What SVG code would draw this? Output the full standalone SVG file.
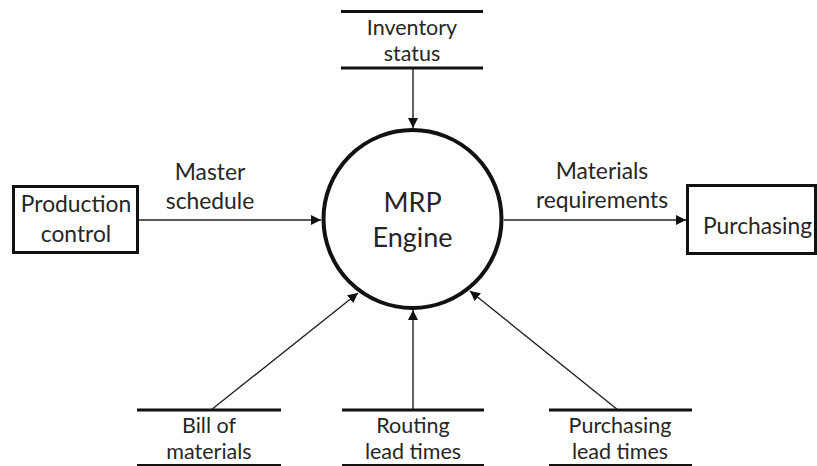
<svg xmlns="http://www.w3.org/2000/svg" width="817" height="466" viewBox="0 0 817 466">
  <style>
    text { font-family: Lato, "Open Sans", "Liberation Sans", sans-serif; fill: #262626; text-anchor: middle; }
    .lbl { font-size: 22.8px; }
    .st { font-size: 21.5px; }
    .big { font-size: 27px; }
    .box { fill: #fff; stroke: #111; stroke-width: 3; }
    .store { stroke: #111; stroke-width: 3.2; }
    .thin { stroke: #111; stroke-width: 2; }
    .flow { stroke: #222; stroke-width: 1.4; fill: none; marker-end: url(#arrow); }
  </style>
  <defs>
    <marker id="arrow" viewBox="0 0 10 10" refX="10" refY="5" markerWidth="10" markerHeight="10" markerUnits="userSpaceOnUse" orient="auto">
      <path d="M0,0 L10,5 L0,10 z" fill="#111"/>
    </marker>
  </defs>
  <rect width="817" height="466" fill="#fff"/>

  <!-- data flows -->
  <g id="connectors">
    <line class="flow" x1="413" y1="68" x2="413" y2="128"/>
    <line class="flow" x1="138" y1="220" x2="321" y2="220"/>
    <line class="flow" x1="504" y1="220" x2="686" y2="220"/>
    <line class="flow" x1="211" y1="410" x2="358" y2="293"/>
    <line class="flow" x1="413" y1="410" x2="413" y2="310"/>
    <line class="flow" x1="618" y1="410" x2="470" y2="291"/>
    <text class="lbl" x="210" y="180">Master</text>
    <text class="lbl" x="210" y="209">schedule</text>
    <text class="lbl" x="602" y="179">Materials</text>
    <text class="lbl" x="602" y="208">requirements</text>
  </g>

  <!-- central process -->
  <g id="mrp-engine">
    <circle cx="412.5" cy="219" r="89" fill="#fff" stroke="#111" stroke-width="4"/>
    <text class="big" x="412.5" y="212">MRP</text>
    <text class="big" x="412.5" y="247">Engine</text>
  </g>

  <!-- external entities -->
  <g id="production-control">
    <rect class="box" x="13.5" y="186.5" width="124" height="66"/>
    <text class="lbl" x="76" y="212">Production</text>
    <text class="lbl" x="76" y="242">control</text>
  </g>
  <g id="purchasing">
    <rect class="box" x="687.5" y="185.5" width="128" height="68"/>
    <text class="lbl" x="757.5" y="234">Purchasing</text>
  </g>

  <!-- data stores -->
  <g id="inventory-status">
    <line class="store" x1="341" y1="11.5" x2="483" y2="11.5"/>
    <line class="store" x1="341" y1="68" x2="483" y2="68"/>
    <text class="st" x="412" y="35">Inventory</text>
    <text class="st" x="412" y="61">status</text>
  </g>
  <g id="bill-of-materials">
    <line class="store" x1="137" y1="410" x2="281" y2="410"/>
    <line class="thin" x1="137" y1="465" x2="281" y2="465"/>
    <text class="st" x="209" y="433">Bill of</text>
    <text class="st" x="209" y="459">materials</text>
  </g>
  <g id="routing-lead-times">
    <line class="store" x1="342" y1="410" x2="484" y2="410"/>
    <line class="thin" x1="342" y1="465" x2="484" y2="465"/>
    <text class="st" x="413" y="433">Routing</text>
    <text class="st" x="413" y="459">lead times</text>
  </g>
  <g id="purchasing-lead-times">
    <line class="store" x1="549" y1="410" x2="692" y2="410"/>
    <line class="thin" x1="549" y1="465" x2="692" y2="465"/>
    <text class="st" x="620" y="433">Purchasing</text>
    <text class="st" x="620" y="459">lead times</text>
  </g>
</svg>
